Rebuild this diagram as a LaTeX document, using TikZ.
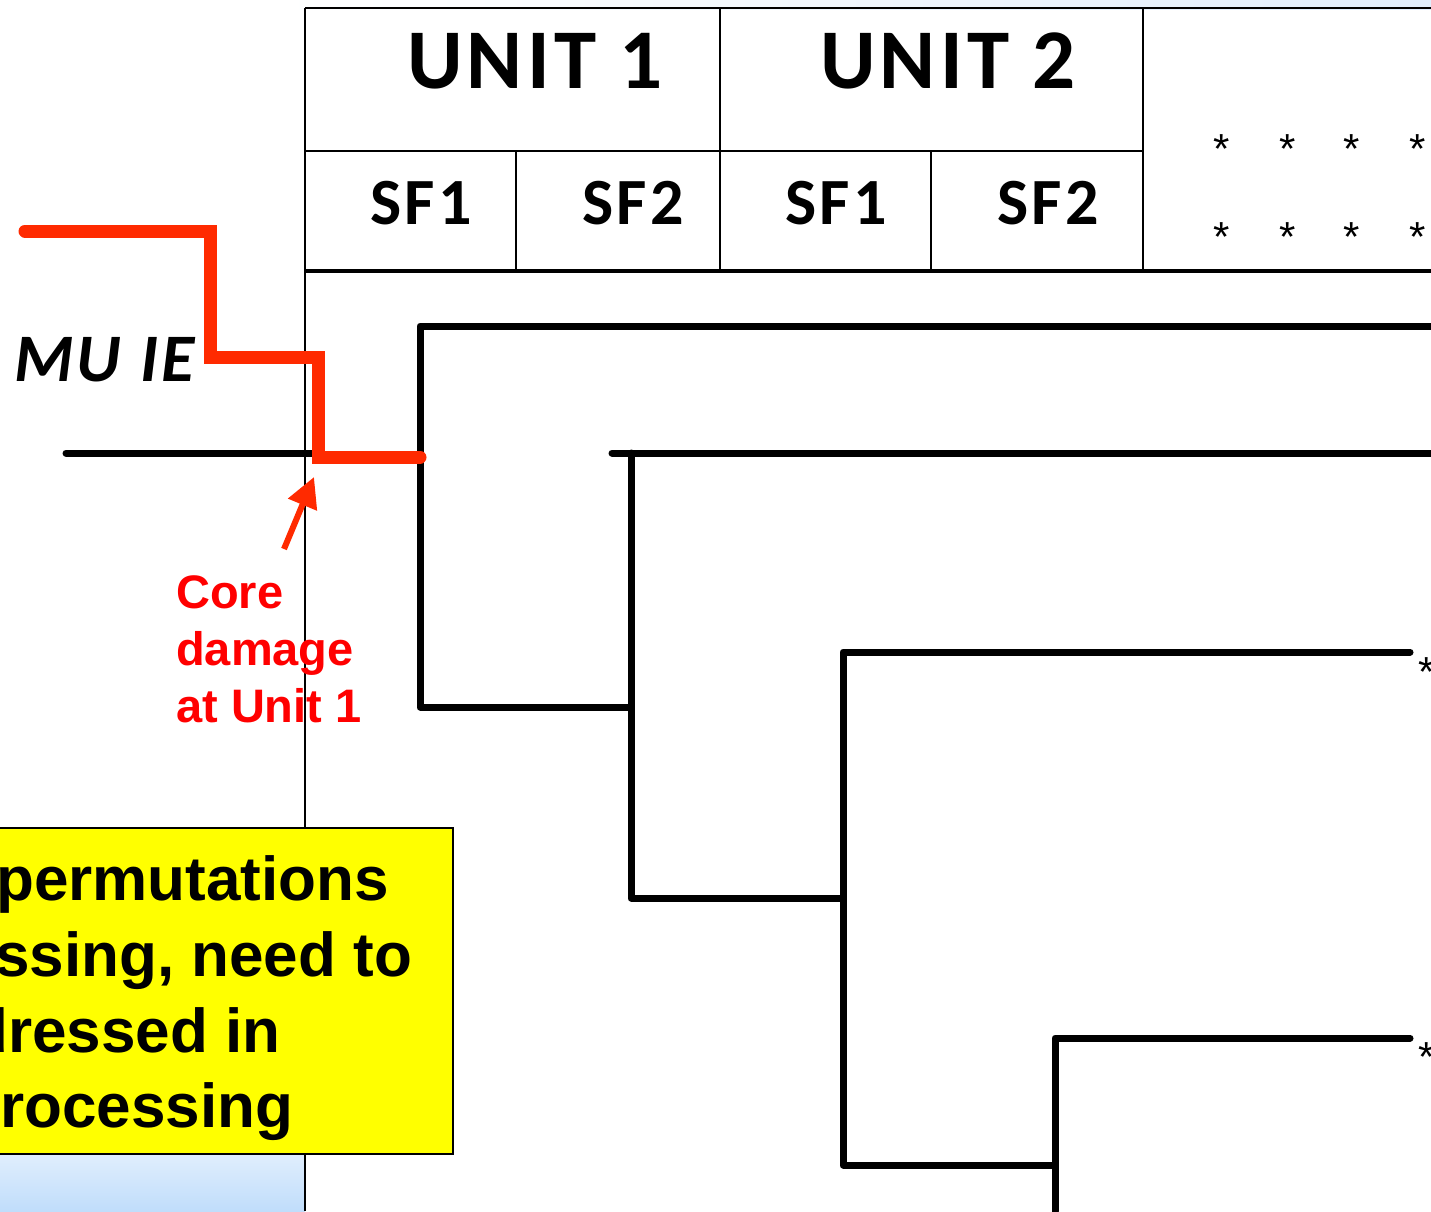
\documentclass[tikz,border=0pt]{standalone}
\usepackage{fontspec}
\setmainfont{Liberation Sans}
\newfontfamily\calib[LetterSpace=5]{Carlito}
\usetikzlibrary{arrows.meta}
\definecolor{alarm}{HTML}{FF2A00}
\definecolor{notered}{HTML}{FF0000}
\definecolor{notefill}{HTML}{FFFF00}
\definecolor{skylight}{HTML}{E0EEFD}
\definecolor{skydeep}{HTML}{C0DDFB}
\tikzset{
  grid/.style={line width=2.5pt, black},
  branch/.style={line width=7pt, black, line cap=round, line join=round},
  cdpath/.style={line width=13pt, alarm, line cap=round, line join=miter},
  head/.style={inner sep=0pt, anchor=base west, font=\calib\bfseries\fontsize{85}{90}\selectfont},
  sub/.style={inner sep=0pt, anchor=base west, font=\calib\bfseries\fontsize{66}{70}\selectfont},
  star/.style={inner sep=0pt, font=\fontsize{42}{44}\selectfont},
  note/.style={inner sep=0pt, anchor=base west, font=\bfseries\fontsize{62}{70}\selectfont},
  redtext/.style={inner sep=0pt, anchor=base west, text=notered, font=\bfseries\fontsize{47}{50}\selectfont},
}
\begin{document}
\begin{tikzpicture}[x=1pt,y=-1pt]
\useasboundingbox (0,0) rectangle (1431,1211);
\fill[white] (0,0) rectangle (1431,1211);
% background tint
\shade[left color=white, right color=skylight] (280,0) rectangle (1431,9);
\shade[top color=skylight, bottom color=skydeep] (0,1154) rectangle (305,1211);

% table frame
\draw[grid] (305,8) -- (1431,8);
\draw[grid] (305,8) -- (305,1211);
\draw[grid] (305,151) -- (1143,151);
\draw[line width=4pt] (305,271) -- (1431,271);
\draw[grid] (720,8) -- (720,271);
\draw[grid] (1143,8) -- (1143,271);
\draw[grid] (516,151) -- (516,271);
\draw[grid] (931,151) -- (931,271);

% column headings
\node[head] (u1) at (407,88) {UNIT 1};
\node[head] (u2) at (820,88) {UNIT 2};
\node[sub] (s11) at (370,224) {SF1};
\node[sub] (s12) at (582,224) {SF2};
\node[sub] (s21) at (785,224) {SF1};
\node[sub] (s22) at (997,224) {SF2};
\foreach \i/\x in {1/1222,2/1288,3/1352,4/1418}{
  \node[star] (ta\i) at (\x,149) {*};
  \node[star] (tb\i) at (\x,237) {*};
}

% event tree branches
\coordinate (a0) at (420,326);
\coordinate (a1) at (1431,326);
\coordinate (a2) at (420,707);
\coordinate (b0) at (612,453);
\coordinate (b1) at (631,453);
\coordinate (b2) at (1431,453);
\coordinate (b3) at (631,707);
\coordinate (b4) at (631,898);
\coordinate (c0) at (843,652);
\coordinate (c1) at (1410,652);
\coordinate (c2) at (843,898);
\coordinate (c3) at (843,1165);
\coordinate (d0) at (1055,1038);
\coordinate (d1) at (1410,1038);
\coordinate (d2) at (1055,1165);
\coordinate (d3) at (1055,1211);
\draw[branch] (a1) -- (a0) -- (a2) -- (b3);
\draw[branch] (b0) -- (b2);
\draw[branch] (b1) -- (b4) -- (c2);
\draw[branch] (c1) -- (c0) -- (c3) -- (d2);
\draw[branch] (d1) -- (d0) -- (d3);
\node[star] (e1) at (1427,672) {*};
\node[star] (e2) at (1427,1057) {*};

% initiating event
\node[inner sep=0pt, anchor=base west, font=\calib\bfseries\itshape\fontsize{68}{70}\selectfont] (mu) at (14,381) {MU IE};
\coordinate (ie0) at (66,453);
\coordinate (ie1) at (318,453);
\draw[branch] (ie0) -- (ie1);

% core damage sequence
\coordinate (r0) at (25,231);
\coordinate (r1) at (210,231);
\coordinate (r2) at (210,357);
\coordinate (r3) at (318,357);
\coordinate (r4) at (318,457);
\coordinate (r5) at (420,457);
\draw[cdpath] (r0) -- (r1) -- (r2) -- (r3) -- (r4) -- (r5);

% callout
\node[redtext] (cd1) at (176,608) {Core};
\node[redtext] (cd2) at (176,665) {damage};
\node[redtext] (cd3) at (176,722) {at Unit 1};
\coordinate (ar0) at (284,549);
\coordinate (ar1) at (314,477);
\draw[alarm, line width=6pt, -{Triangle[length=30pt,width=30pt]}] (ar0) -- (ar1);

% remark box
\draw[line width=2.5pt, fill=notefill] (-10,828) rectangle (453,1154);
\node[note] (n1) at (-4,900) {permutations};
\node[note] (n2) at (-5,976) {ssing, need to};
\node[note] (n3) at (-30,1052) {dressed in};
\node[note] (n4) at (0,1127) {rocessing};
\end{tikzpicture}
\end{document}
